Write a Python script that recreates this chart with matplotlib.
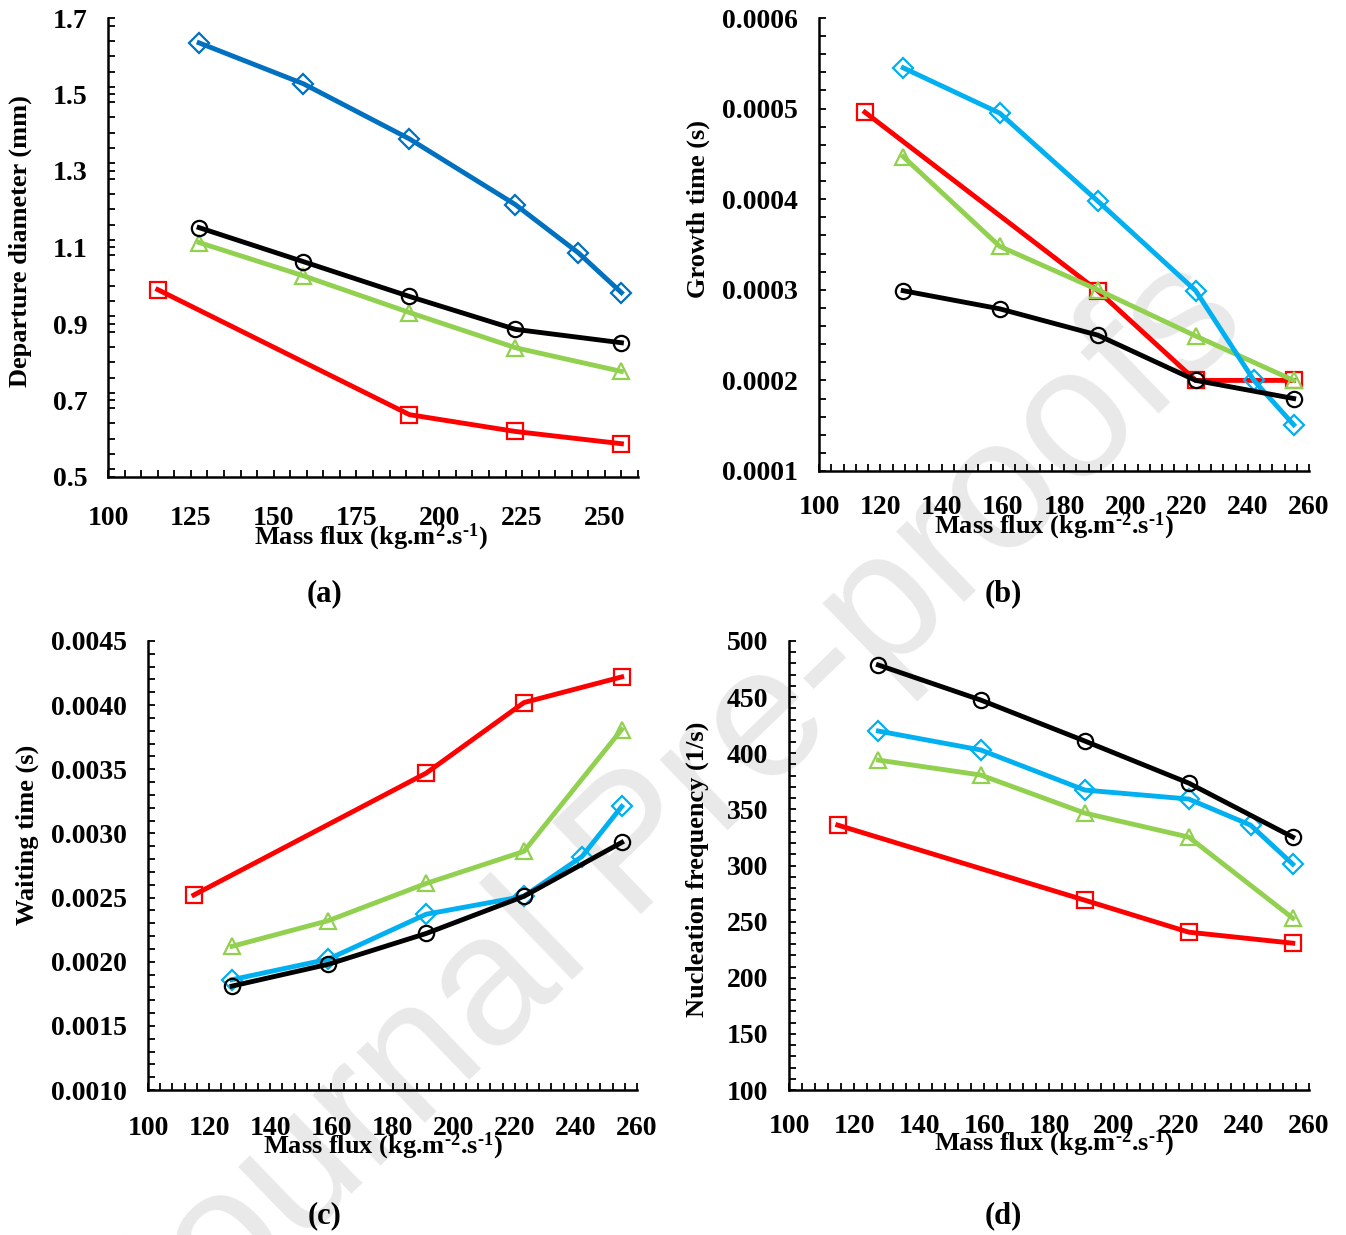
import matplotlib
matplotlib.use('Agg')
import matplotlib.pyplot as plt
from matplotlib.ticker import MultipleLocator, FormatStrFormatter

plt.rcParams['font.family'] = ['Liberation Serif', 'DejaVu Serif']
plt.rcParams['font.weight'] = 'bold'
plt.rcParams['mathtext.fontset'] = 'custom'
plt.rcParams['mathtext.rm'] = 'Liberation Serif:bold'
plt.rcParams['mathtext.default'] = 'rm'

# Mass flux positions (kg/m2.s)
g_red = [115, 191, 223, 255]
g_blue = [127.5, 159, 191, 223, 242, 255]
g_five = [127.5, 159, 191, 223, 255]

# (a) departure diameter (mm)
dia_red = [0.990, 0.663, 0.619, 0.587]
dia_green = [1.113, 1.026, 0.930, 0.838, 0.776]
dia_blue = [1.635, 1.528, 1.384, 1.212, 1.086, 0.982]
dia_black = [1.152, 1.063, 0.972, 0.886, 0.851]

# (b) growth time (s)
grow_red = [0.000496, 0.000299, 0.000200, 0.000200]
grow_green = [0.000447, 0.000348, 0.000300, 0.000249, 0.000200]
grow_blue = [0.000545, 0.000495, 0.000398, 0.000299, 0.000200, 0.000151]
grow_black = [0.000299, 0.000279, 0.000250, 0.000200, 0.000180]

# (c) waiting time (s)
wait_red = [0.00252, 0.00347, 0.00402, 0.00422]
wait_green = [0.00212, 0.00232, 0.00261, 0.00286, 0.00381]
wait_blue = [0.00186, 0.00202, 0.00237, 0.00251, 0.00282, 0.00321]
wait_black = [0.00181, 0.00198, 0.00222, 0.00251, 0.00293]

# (d) nucleation frequency (1/s)
nuc_red = [336, 269.1, 240.6, 230.8]
nuc_green = [393.9, 380.6, 346.7, 325.3, 253.1]
nuc_blue = [419.8, 402.9, 367.2, 359.2, 336, 301.2]
nuc_black = [478.6, 447.4, 410.9, 373.4, 325.3]

RED = '#FF0000'
GREEN = '#92D050'
LBLUE = '#00B0F0'
DBLUE = '#0070C0'

W, H = 1346, 1235
fig = plt.figure(figsize=(W / 100, H / 100), dpi=100)

XLAB_A = 'Mass flux (kg.m$^{2}$.s$^{\u20101}$)'
XLAB = 'Mass flux (kg.m$^{\u20102}$.s$^{\u20101}$)'


def px_axes(left, right, top, bottom):
    # axes rectangle from pixel edges
    return fig.add_axes([left / W, 1 - bottom / H, (right - left) / W, (bottom - top) / H])


def ftext(x, y, s, **kw):
    fig.text(x / W, 1 - y / H, s, ha='center', va='center', fontweight='bold', **kw)


def draw(ax, red, green, blue, black, blue_col):
    kw = dict(lw=3.5, mfc='none', mew=1.6)
    ax.plot(g_red, red, color=RED, marker='s', ms=11, **kw)
    ax.plot(g_five, green, color=GREEN, marker='^', ms=12, **kw)
    ax.plot(g_blue, blue, color=blue_col, marker='D', ms=10, **kw)
    ax.plot(g_five, black, color='black', marker='o', ms=11, **kw)


def style(ax, ymin, ymax, ymaj, yoff, ymin_step, xmaj, xmin_step, fmt, xpad):
    ax.set_facecolor('none')
    ax.set_xlim(100, 260)
    ax.set_ylim(ymin, ymax)
    ax.xaxis.set_major_locator(MultipleLocator(xmaj))
    ax.xaxis.set_minor_locator(MultipleLocator(xmin_step))
    ax.yaxis.set_major_locator(MultipleLocator(ymaj, offset=yoff))
    ax.yaxis.set_minor_locator(MultipleLocator(ymin_step))
    ax.yaxis.set_major_formatter(FormatStrFormatter(fmt))
    for s in ['top', 'right']:
        ax.spines[s].set_visible(False)
    for s in ['left', 'bottom']:
        ax.spines[s].set_linewidth(1.8)
    ax.tick_params(which='both', direction='in', length=5, width=1.3)
    ax.tick_params(axis='x', which='major', pad=xpad, labelsize=20)
    ax.tick_params(axis='y', which='major', pad=15, labelsize=20)
    for lab in ax.get_xticklabels() + ax.get_yticklabels():
        lab.set_fontweight('bold')


# (a)
ax = px_axes(108, 638, 18, 477)
draw(ax, dia_red, dia_green, dia_blue, dia_black, DBLUE)
style(ax, 0.5, 1.7, 0.2, 0.1, 0.04, 25, 5, '%.1f', 21)
ftext(20, 241, 'Departure diameter (mm)', rotation=90, fontsize=19)
ftext(371, 537, XLAB_A, fontsize=19)
ftext(325, 594, '(a)', fontsize=22)

# (b)
ax = px_axes(819, 1309, 18, 471)
draw(ax, grow_red, grow_green, grow_blue, grow_black, LBLUE)
style(ax, 0.0001, 0.0006, 0.0001, 0, 0.00002, 20, 4, '%.4f', 17)
ftext(698, 209, 'Growth time (s)', rotation=90, fontsize=19)
ftext(1054, 526, XLAB, fontsize=19)
ftext(1003, 594, '(b)', fontsize=22)

# (c)
ax = px_axes(148, 637, 641, 1090)
draw(ax, wait_red, wait_green, wait_blue, wait_black, LBLUE)
style(ax, 0.0010, 0.0045, 0.0005, 0, 0.0001, 20, 4, '%.4f', 19)
ftext(27, 835, 'Waiting time (s)', rotation=90, fontsize=19)
ftext(383, 1146, XLAB, fontsize=19)
ftext(325, 1216, '(c)', fontsize=22)

# (d)
ax = px_axes(789, 1309, 641, 1090)
draw(ax, nuc_red, nuc_green, nuc_blue, nuc_black, LBLUE)
style(ax, 100, 500, 50, 0, 10, 20, 4, '%d', 17)
ftext(697, 869, 'Nucleation frequency (1/s)', rotation=90, fontsize=19)
ftext(1054, 1143, XLAB, fontsize=19)
ftext(1003, 1216, '(d)', fontsize=22)

# watermark behind everything
fig.text(671 / W, 1 - 819 / H, 'Journal Pre-proofs', rotation=44, fontsize=133,
         family='Liberation Sans', fontweight='normal', color='#e9e9e9',
         ha='center', va='center', zorder=-5)

fig.savefig('out.png', dpi=100)
